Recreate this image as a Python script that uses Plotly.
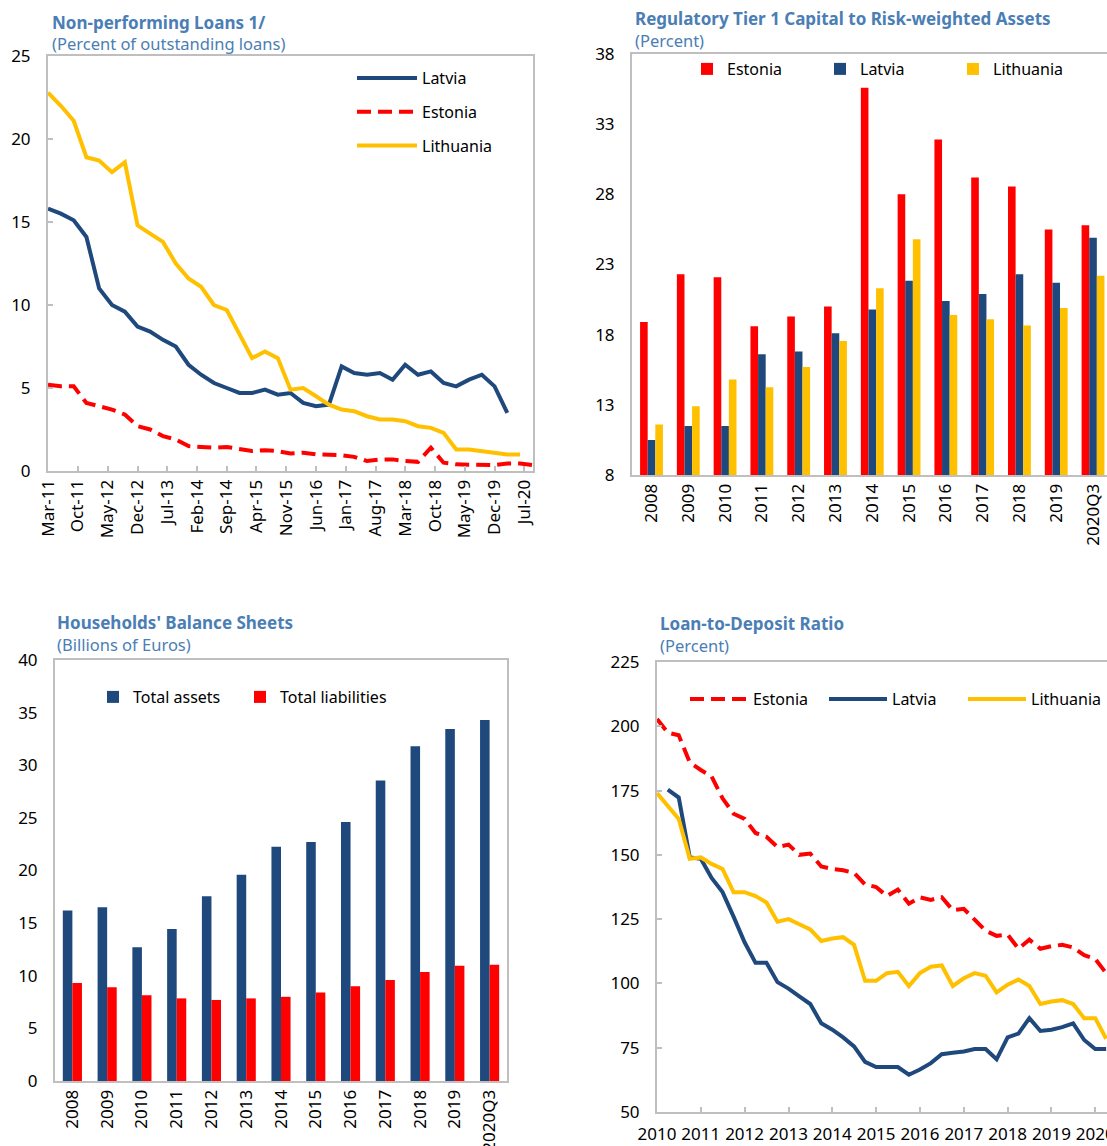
import plotly.graph_objects as go
import pandas as pd

W, H = 1107, 1146

# ---------------- Data ----------------
# Chart 1: Non-performing loans (quarterly from Mar-11)
npl_dates = pd.date_range("2011-03-01", periods=39, freq="3MS")
npl_latvia = [15.8, 15.5, 15.1, 14.1, 11.0, 10.0, 9.6, 8.7, 8.4, 7.9, 7.5, 6.4, 5.8, 5.3, 5.0, 4.7,
              4.7, 4.9, 4.6, 4.7, 4.1, 3.9, 4.0, 6.3, 5.9, 5.8, 5.9, 5.5, 6.4, 5.8, 6.0, 5.3,
              5.1, 5.5, 5.8, 5.1, 3.5]
npl_estonia = [5.2, 5.1, 5.1, 4.1, 3.9, 3.7, 3.4, 2.7, 2.5, 2.1, 1.9, 1.5, 1.45, 1.4, 1.45, 1.35,
               1.2, 1.25, 1.2, 1.05, 1.1, 1.0, 1.0, 0.95, 0.85, 0.6, 0.7, 0.7, 0.6, 0.55, 1.4, 0.5,
               0.4, 0.4, 0.35, 0.35, 0.45, 0.45, 0.35]
npl_lithuania = [22.8, 22.0, 21.1, 18.9, 18.7, 18.0, 18.6, 14.8, 14.3, 13.8, 12.5, 11.6, 11.1, 10.0,
                 9.7, 8.3, 6.8, 7.2, 6.8, 4.9, 5.0, 4.5, 4.0, 3.7, 3.6, 3.3, 3.1, 3.1, 3.0, 2.7,
                 2.6, 2.3, 1.3, 1.3, 1.2, 1.1, 1.0, 1.0]
npl_tick_dates = pd.date_range("2011-03-01", periods=17, freq="7MS")

# Chart 2: Tier 1 capital
t1_years = ["2008", "2009", "2010", "2011", "2012", "2013", "2014", "2015", "2016", "2017",
            "2018", "2019", "2020Q3"]
t1_estonia = [18.9, 22.3, 22.1, 18.6, 19.3, 20.0, 35.6, 28.0, 31.9, 29.2, 28.55, 25.5, 25.8]
t1_latvia = [10.5, 11.5, 11.5, 16.6, 16.8, 18.1, 19.8, 21.85, 20.4, 20.9, 22.3, 21.7, 24.9]
t1_lithuania = [11.6, 12.9, 14.8, 14.25, 15.7, 17.55, 21.3, 24.8, 19.4, 19.1, 18.65, 19.9, 22.2]

# Chart 3: Households' balance sheets
hh_years = t1_years
hh_assets = [16.2, 16.5, 12.7, 14.45, 17.55, 19.6, 22.25, 22.7, 24.6, 28.55, 31.8, 33.45, 34.3]
hh_liabilities = [9.3, 8.9, 8.15, 7.85, 7.7, 7.85, 8.0, 8.4, 9.0, 9.6, 10.35, 10.95, 11.05]

# Chart 4: Loan-to-deposit ratio (quarterly from 2010Q1)
ltd_dates = pd.date_range("2010-01-01", periods=42, freq="QS")
ltd_estonia = [202.8, 197.5, 196.5, 186, 183, 180.5, 172, 166, 164, 158.5, 157, 153, 154, 150,
               150.5, 145.5, 144.5, 144, 143, 138.5, 137.5, 134, 136.5, 131, 133.5, 132.5, 133.5,
               128.5, 129, 124.5, 120.5, 118.5, 119, 113.5, 117, 113.5, 114.5, 115, 114, 111,
               109.5, 104]
ltd_latvia = [None, 175.4, 172.3, 149, 148.5, 141, 135.5, 126, 116, 108, 108, 100.5, 98, 95, 92,
              84.5, 82, 79, 75.5, 69.5, 67.5, 67.5, 67.5, 64.5, 66.5, 69, 72.5, 73, 73.5, 74.5,
              74.5, 70.5, 79, 80.5, 86.5, 81.5, 82, 83, 84.5, 78, 74.5, 74.5]
ltd_lithuania = [174, 169, 164, 148.5, 149, 146.5, 144.5, 135.5, 135.5, 134, 131.5, 124, 125, 123,
                 121, 116.5, 117.5, 118, 115, 101, 101, 104, 104.5, 99, 104, 106.5, 107, 99, 102,
                 104, 103, 96.5, 99.5, 101.5, 99, 92, 93, 93.5, 92, 86.5, 86.5, 78.5]
ltd_years = [str(y) for y in range(2010, 2021)]

# ---------------- Style ----------------
NAVY = "#1F497D"
RED = "#FF0000"
GOLD = "#FFC000"
TITLE = "#4A7EB5"
AXIS = "#BFBFBF"
FONT = "Noto Sans"
DASH = "14px,7px"


def fx(p):
    return p / W


def fy(p):
    return 1 - p / H


fig = go.Figure()

# Chart 1
fig.add_trace(go.Scatter(x=npl_dates[:len(npl_latvia)], y=npl_latvia, name="Latvia", mode="lines",
                         line=dict(color=NAVY, width=4), xaxis="x", yaxis="y",
                         legend="legend", legendgroup="a1"))
fig.add_trace(go.Scatter(x=npl_dates[:len(npl_estonia)], y=npl_estonia, name="Estonia", mode="lines",
                         line=dict(color=RED, width=4, dash=DASH), xaxis="x", yaxis="y",
                         legend="legend", legendgroup="a2"))
fig.add_trace(go.Scatter(x=npl_dates[:len(npl_lithuania)], y=npl_lithuania, name="Lithuania",
                         mode="lines", line=dict(color=GOLD, width=4), xaxis="x", yaxis="y",
                         legend="legend", legendgroup="a3"))

# Chart 2
bw2 = 0.207
for vals, nm, col, off in [(t1_estonia, "Estonia", RED, -1.5 * bw2),
                           (t1_latvia, "Latvia", NAVY, -0.5 * bw2),
                           (t1_lithuania, "Lithuania", GOLD, 0.5 * bw2)]:
    fig.add_trace(go.Bar(x=t1_years, y=vals, name=nm, marker=dict(color=col, line=dict(width=0)),
                         width=bw2, offset=off, xaxis="x2", yaxis="y2", legend="legend2"))

# Chart 3
bw3 = 0.275
for vals, nm, col, off in [(hh_assets, "Total assets", NAVY, -bw3),
                           (hh_liabilities, "Total liabilities", RED, 0)]:
    fig.add_trace(go.Bar(x=hh_years, y=vals, name=nm, marker=dict(color=col, line=dict(width=0)),
                         width=bw3, offset=off, xaxis="x3", yaxis="y3", legend="legend3"))

# Chart 4
fig.add_trace(go.Scatter(x=ltd_dates, y=ltd_estonia, name="Estonia", mode="lines",
                         line=dict(color=RED, width=4, dash=DASH), xaxis="x4", yaxis="y4",
                         legend="legend4"))
fig.add_trace(go.Scatter(x=ltd_dates, y=ltd_latvia, name="Latvia", mode="lines",
                         line=dict(color=NAVY, width=4), xaxis="x4", yaxis="y4", legend="legend4"))
fig.add_trace(go.Scatter(x=ltd_dates, y=ltd_lithuania, name="Lithuania", mode="lines",
                         line=dict(color=GOLD, width=4), xaxis="x4", yaxis="y4", legend="legend4"))

TICKFONT = dict(size=17, color="#000000", family=FONT)
axis_common = dict(showline=True, linecolor=AXIS, linewidth=2, mirror=True, showgrid=False,
                   zeroline=False, tickfont=TICKFONT, automargin=False,
                   ticks="inside", ticklen=5, tickcolor=AXIS, tickwidth=1.5)
bar_y_common = dict(axis_common, ticks="")
bar_x_common = dict(axis_common, ticks="", tickangle=-90, type="category")
YSTAND = 12

fig.update_layout(
    width=W, height=H, margin=dict(l=0, r=0, t=0, b=0, autoexpand=False),
    paper_bgcolor="white", plot_bgcolor="white",
    font=dict(family=FONT, size=16, color="#000000"),
    barmode="overlay",
    xaxis=dict(axis_common, domain=[fx(48), fx(533)], anchor="y", type="date",
               range=["2011-03-01", "2020-09-01"], tickangle=-90, ticklabeloverflow="allow",
               tickvals=list(npl_tick_dates), ticktext=[d.strftime("%b-%y") for d in npl_tick_dates]),
    yaxis=dict(axis_common, domain=[fy(471), fy(56)], anchor="x", range=[0, 25], dtick=5,
               ticklabelstandoff=YSTAND),
    xaxis2=dict(bar_x_common, domain=[fx(632), 1.0], anchor="y2", range=[-0.53, 12.38]),
    yaxis2=dict(bar_y_common, domain=[fy(475), fy(54)], anchor="x2", range=[8, 38], tick0=8,
                dtick=5, ticklabelstandoff=YSTAND),
    xaxis3=dict(bar_x_common, domain=[fx(55), fx(507)], anchor="y3", range=[-0.5, 12.5]),
    yaxis3=dict(bar_y_common, domain=[fy(1081), fy(660)], anchor="x3", range=[0, 40], dtick=5,
                ticklabelstandoff=YSTAND),
    xaxis4=dict(axis_common, domain=[fx(657), 1.0], anchor="y4", type="date",
                range=["2010-01-01", "2020-04-08"], tickangle=0, ticklabeloverflow="allow",
                ticklabelstandoff=6,
                tickvals=[y + "-01-01" for y in ltd_years], ticktext=ltd_years),
    yaxis4=dict(axis_common, domain=[fy(1112), fy(662)], anchor="x4", range=[50, 225], dtick=25,
                ticklabelstandoff=YSTAND),
    legend=dict(x=fx(352), y=fy(61), xanchor="left", yanchor="top", orientation="v",
                bgcolor="rgba(0,0,0,0)", font=dict(size=16), tracegroupgap=10, itemwidth=60),
    legend2=dict(x=fx(687), y=fy(52), xanchor="left", yanchor="top", orientation="h",
                 bgcolor="rgba(0,0,0,0)", font=dict(size=16), entrywidth=88, itemwidth=30),
    legend3=dict(x=fx(93), y=fy(680), xanchor="left", yanchor="top", orientation="h",
                 bgcolor="rgba(0,0,0,0)", font=dict(size=16), entrywidth=102, itemwidth=30),
    legend4=dict(x=fx(685), y=fy(682), xanchor="left", yanchor="top", orientation="h",
                 bgcolor="rgba(0,0,0,0)", font=dict(size=16), entrywidth=66, itemwidth=58),
)

titles = [
    (52, 22, "<b>Non-performing Loans 1/</b>", "(Percent of outstanding loans)", 44),
    (635, 19, "<b>Regulatory Tier 1 Capital to Risk-weighted Assets</b>", "(Percent)", 41),
    (57, 622, "<b>Households' Balance Sheets</b>", "(Billions of Euros)", 644),
    (660, 623, "<b>Loan-to-Deposit Ratio</b>", "(Percent)", 645),
]
for x, y, t, s, ys in titles:
    fig.add_annotation(x=fx(x), y=fy(y), xref="paper", yref="paper", text=t, showarrow=False,
                       xanchor="left", yanchor="middle", xshift=-2,
                       font=dict(size=17, color=TITLE, family=FONT))
    fig.add_annotation(x=fx(x), y=fy(ys), xref="paper", yref="paper", text=s, showarrow=False,
                       xanchor="left", yanchor="middle", xshift=-2,
                       font=dict(size=16.5, color=TITLE, family=FONT))

fig.write_html("out.html", config={"displayModeBar": False},
               post_script="document.body.style.margin='0';")
